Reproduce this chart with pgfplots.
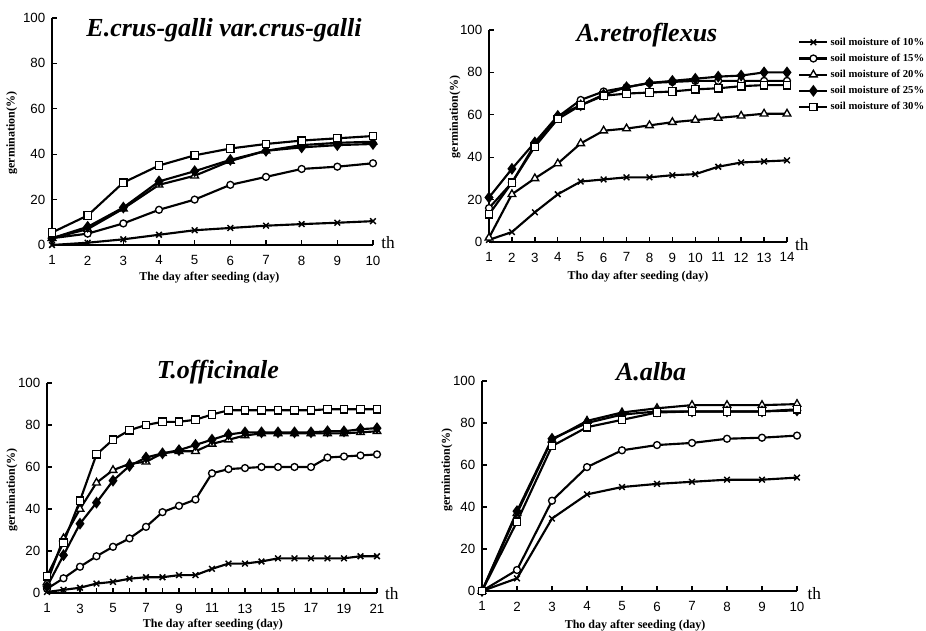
\documentclass[border=0pt]{standalone}
\usepackage{fontspec}
\setmainfont{Liberation Serif}
\newfontfamily\sansf{Liberation Sans}
\usepackage{pgfplots}
\usepackage{pgfplotstable}
\pgfplotsset{compat=1.18}

% germination (%) by day after seeding, one column per soil moisture
\pgfplotstableread{
day m10  m15  m20  m25  m30
1   0    3    3    3    5.5
2   1    5    7    8    13
3   2.5  9.5  16   16.5 27.5
4   4.5  15.5 26.5 28   35
5   6.5  20   30.5 32.5 39.5
6   7.5  26.5 37   37.5 42.5
7   8.5  30   41.5 41.5 44.5
8   9.2  33.5 44   43   46
9   9.8  34.5 45   44   47
10  10.5 36   45.5 44.5 48
}\ecrus

\pgfplotstableread{
day m10  m15  m20  m25  m30
1   1    16   2    21   13
2   4.7  28   22.5 34.5 28
3   14   46   30   47   45
4   22.5 59   37   59.5 58
5   28.5 67   46.5 64.5 64.5
6   29.5 71   52.5 69.5 69
7   30.5 73   53.5 73   70
8   30.5 75   55   75   70.5
9   31.5 75.5 56.5 76   71
10  32   76   57.5 77   72
11  35.5 76   58.5 78   72.5
12  37.5 76   59.5 78.5 73.5
13  38   76   60.5 80   74
14  38.5 76   60.5 80   74
}\aretro

\pgfplotstableread{
day m10  m15  m20  m25  m30
1   0.5  2    5    3    8
2   1.5  7    26   18   24
3   2.5  12.5 40   33   44
4   4.5  17.5 52.5 43   66
5   5.3  22   58.5 53.5 73
6   6.8  26   61.5 60.5 77.5
7   7.5  31.5 62.5 64.5 80
8   7.5  38.5 66.5 66.5 81.5
9   8.5  41.5 67.5 68   81.5
10  8.5  44.5 67.5 70.5 82.5
11  11.5 57   71   73   85
12  14   59   73   75.5 87
13  14   59.5 75   76.5 87
14  15   60   76   76.5 87
15  16.5 60   76   76.5 87
16  16.5 60   76   76.5 87
17  16.5 60   76   76.5 87
18  16.5 64.5 76   77   87.5
19  16.5 65   76   77   87.5
20  17.5 65.5 76.5 78   87.5
21  17.5 66   77   78.5 87.5
}\toff

\pgfplotstableread{
day m10  m15  m20  m25  m30
1   0    0    0    0    0
2   6    10   37   38   33
3   34.5 43   72   72.5 69
4   46   59   81   80   78
5   49.5 67   85   84   81.5
6   51   69.5 87   85.5 85
7   52   70.5 88.5 85.5 85.5
8   53   72.5 88.5 85.5 85.5
9   53   73   88.5 85.5 85.5
10  54   74   89   86   86.5
}\aalba

\pgfplotsset{
  panel/.style={
    scale only axis, axis lines=left, axis line style={-, line width=1.6pt},
    xmin=1, ymin=0, ymax=100, ytick={0,20,...,100},
    enlargelimits=false, clip=false,
    tick align=inside, major tick length=3.5pt, minor tick length=3.5pt,
    tick style={black, line width=1pt},
    tick label style={font=\sansf\fontsize{10}{12}\selectfont},
    xticklabel style={yshift=-4.5pt},
    yticklabel style={xshift=-1.5pt},
    /pgf/number format/assume math mode=true,
  },
}
\tikzset{
  base/.style={black, line width=1.6pt, mark size=3pt},
  m10/.style={base, mark=x, mark options={line width=1.1pt}},
  m15/.style={base, mark=*, mark size=2.6pt, mark options={fill=white, line width=1pt}},
  m20/.style={base, mark=triangle*, mark size=3.3pt, mark options={fill=white, line width=1pt}},
  m25/.style={base, mark=diamond*, mark size=3.2pt, mark options={fill=black}},
  m30/.style={base, mark=square*, mark size=2.8pt, mark options={fill=white, line width=1pt}},
  lab/.style={font=\bfseries\fontsize{9}{10}\selectfont},
  ttl/.style={font=\bfseries\itshape\fontsize{19.5}{22}\selectfont},
  thl/.style={font=\fontsize{13}{14}\selectfont},
}

\begin{document}
\begin{tikzpicture}
\useasboundingbox (0,0) rectangle (694.5pt,473.25pt);

% E. crus-galli
\begin{axis}[panel, at={(39pt,289.5pt)}, anchor=south west,
  width=240.75pt, height=170.25pt, xmax=10, xtick={1,...,10}]
\addplot[m10] table[x=day,y=m10]{\ecrus};
\addplot[m15] table[x=day,y=m15]{\ecrus};
\addplot[m20] table[x=day,y=m20]{\ecrus};
\addplot[m25] table[x=day,y=m25]{\ecrus};
\addplot[m30] table[x=day,y=m30]{\ecrus};
\node[ttl] at (rel axis cs:0.536,0.947) {E.crus-galli var.crus-galli};
\node[lab, rotate=90] at (rel axis cs:-0.125,0.493) {germination(\%)};
\node[lab] at (rel axis cs:0.49,-0.145) {The day after seeding (day)};
\node[thl] at (rel axis cs:1.047,0.01) {th};
\end{axis}

% A. retroflexus
\begin{axis}[panel, at={(366.75pt,291.75pt)}, anchor=south west,
  width=223.5pt, height=159pt, xmax=14, xtick={1,...,14},
  legend image code/.code={\draw[mark repeat=2,mark phase=2,#1]
    plot coordinates {(0cm,0cm) (0.37cm,0cm) (0.74cm,0cm)};},
  legend style={at={(1.037,0.975)}, anchor=north west, draw=none, fill=none,
    font=\bfseries\fontsize{8}{9}\selectfont, row sep=2pt, inner sep=0pt,
    nodes={inner sep=1.5pt}},
  legend cell align=left]
\addplot[m10] table[x=day,y=m10]{\aretro};
\addlegendentry{soil moisture of 10\%}
\addplot[m15] table[x=day,y=m15]{\aretro};
\addlegendentry{soil moisture of 15\%}
\addplot[m20] table[x=day,y=m20]{\aretro};
\addlegendentry{soil moisture of 20\%}
\addplot[m25] table[x=day,y=m25]{\aretro};
\addlegendentry{soil moisture of 25\%}
\addplot[m30] table[x=day,y=m30]{\aretro};
\addlegendentry{soil moisture of 30\%}
\node[ttl] at (rel axis cs:0.53,0.976) {A.retroflexus};
\node[lab, rotate=90] at (rel axis cs:-0.114,0.59) {germination(\%)};
\node[lab] at (rel axis cs:0.5,-0.162) {Tho day after seeding (day)};
\node[thl] at (rel axis cs:1.05,-0.01) {th};
\end{axis}

% T. officinale
\begin{axis}[panel, at={(35.25pt,28.5pt)}, anchor=south west,
  width=247.5pt, height=157.5pt, xmax=21, xtick={1,3,...,21},
  minor xtick={2,4,...,20}]
\addplot[m10] table[x=day,y=m10]{\toff};
\addplot[m15] table[x=day,y=m15]{\toff};
\addplot[m20] table[x=day,y=m20]{\toff};
\addplot[m25] table[x=day,y=m25]{\toff};
\addplot[m30] table[x=day,y=m30]{\toff};
\node[ttl] at (rel axis cs:0.518,1.052) {T.officinale};
\node[lab, rotate=90] at (rel axis cs:-0.106,0.49) {germination(\%)};
\node[lab] at (rel axis cs:0.503,-0.152) {The day after seeding (day)};
\node[thl] at (rel axis cs:1.045,-0.005) {th};
\end{axis}

% A. alba
\begin{axis}[panel, at={(361.5pt,30pt)}, anchor=south west,
  width=236.25pt, height=157.5pt, xmax=10, xtick={1,...,10}]
\addplot[m10] table[x=day,y=m10]{\aalba};
\addplot[m15] table[x=day,y=m15]{\aalba};
\addplot[m20] table[x=day,y=m20]{\aalba};
\addplot[m25] table[x=day,y=m25]{\aalba};
\addplot[m30] table[x=day,y=m30]{\aalba};
\node[ttl] at (rel axis cs:0.537,1.043) {A.alba};
\node[lab, rotate=90] at (rel axis cs:-0.111,0.576) {germination(\%)};
\node[lab] at (rel axis cs:0.486,-0.165) {Tho day after seeding (day)};
\node[thl] at (rel axis cs:1.055,-0.01) {th};
\end{axis}
\end{tikzpicture}
\end{document}
